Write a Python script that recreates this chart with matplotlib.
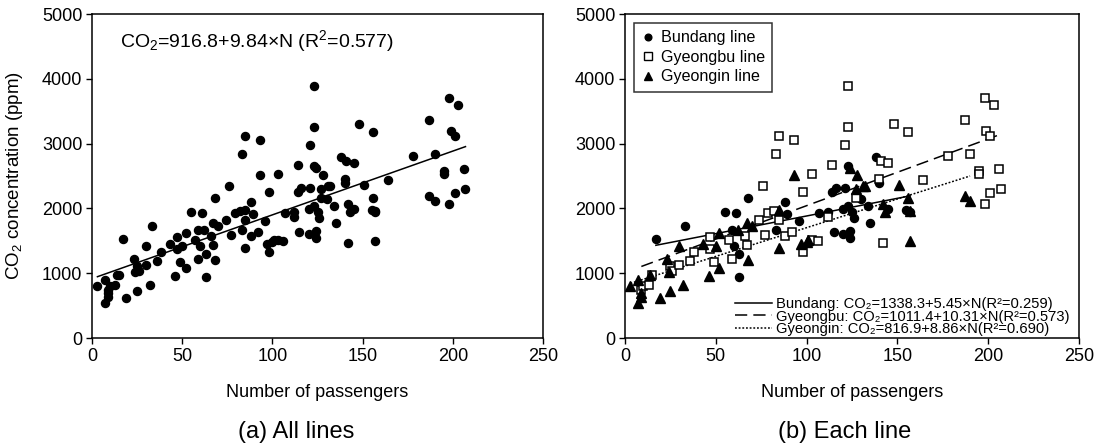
import numpy as np
import matplotlib
matplotlib.use('Agg')
import matplotlib.pyplot as plt
from matplotlib.lines import Line2D

plt.rcParams['font.family'] = ['Liberation Sans', 'DejaVu Sans']
plt.rcParams['mathtext.fontset'] = 'custom'
plt.rcParams['mathtext.rm'] = 'Liberation Sans'
plt.rcParams['mathtext.default'] = 'regular'

# passengers / CO2 (ppm)
bundang_n = [17, 33, 55, 59, 60, 61, 63, 63, 68, 83, 88, 89, 96, 107, 112, 114, 115, 116,
             120, 120, 121, 123, 123, 124, 124, 125, 126, 130, 134, 135, 138, 140, 145, 155, 157]
bundang_co2 = [1530, 1730, 1945, 1665, 1415, 1925, 1300, 935, 2155, 1660, 2105, 1915, 1800, 1930,
               1950, 2250, 1640, 2310, 1605, 1995, 2320, 2655, 2030, 1650, 1545, 1940, 1855, 2150,
               2030, 1775, 2800, 2390, 1985, 1975, 1945]

gyeongbu_n = [9, 10, 13, 15, 25, 26, 30, 36, 38, 47, 47, 49, 57, 59, 66, 67, 74, 76, 77, 79, 82,
              83, 85, 85, 88, 92, 93, 98, 98, 103, 103, 106, 112, 114, 121, 123, 123, 127, 140,
              141, 142, 145, 148, 156, 164, 178, 187, 190, 195, 195, 198, 198, 199, 201, 201,
              203, 206, 207]
gyeongbu_co2 = [745, 800, 815, 975, 1105, 1030, 1120, 1185, 1320, 1555, 1375, 1170, 1515, 1220,
                1580, 1430, 1825, 2340, 1595, 1930, 1965, 2845, 3125, 1815, 1570, 1635, 3060, 2255,
                1330, 2535, 1520, 1500, 1875, 2665, 2975, 3885, 3250, 2165, 2455, 2730, 1470, 2695,
                3310, 3185, 2435, 2810, 3370, 2840, 2580, 2530, 3700, 2075, 3200, 3110, 2245, 3600,
                2615, 2295]

gyeongin_n = [3, 7, 7, 9, 9, 14, 19, 23, 24, 25, 30, 32, 43, 46, 50, 52, 52, 62, 67, 68, 70, 85,
              85, 93, 97, 100, 101, 124, 127, 128, 131, 132, 142, 143, 151, 156, 157, 157, 187, 190]
gyeongin_co2 = [810, 890, 540, 695, 630, 975, 615, 1220, 1015, 730, 1425, 820, 1450, 960, 1425,
                1620, 1080, 1660, 1775, 1210, 1725, 1980, 1390, 2520, 1455, 1480, 1515, 2620, 2300,
                2520, 2340, 2340, 2070, 1945, 2365, 2160, 1490, 1965, 2185, 2115]

# regression coefficients (intercept, slope) as printed on the chart
fit_all = (916.8, 9.84)
fit_bundang = (1338.3, 5.45)
fit_gyeongbu = (1011.4, 10.31)
fit_gyeongin = (816.9, 8.86)

all_n = np.array(bundang_n + gyeongbu_n + gyeongin_n)
all_co2 = np.array(bundang_co2 + gyeongbu_co2 + gyeongin_co2)

FS = 13
DASH = (0, (8, 4))
DOT = (0, (1.2, 1.2))

fig = plt.figure(figsize=(11.06, 4.45), dpi=100)
ax1 = fig.add_axes([0.0832, 0.2404, 0.4078, 0.7281])
ax2 = fig.add_axes([0.5651, 0.2404, 0.4105, 0.7281])

for ax in (ax1, ax2):
    ax.set_xlim(0, 250)
    ax.set_ylim(0, 5000)
    ax.set_xticks(np.arange(0, 251, 50))
    ax.set_yticks(np.arange(0, 5001, 1000))
    ax.tick_params(direction='out', length=4, width=1, labelsize=FS, pad=3,
                   top=False, right=False)
    for s in ax.spines.values():
        s.set_linewidth(1.1)
    ax.set_xlabel('Number of passengers', fontsize=FS, labelpad=14)


def fit_line(ax, n, coef, **kw):
    x = np.array([min(n), max(n)])
    ax.plot(x, coef[0] + coef[1] * x, color='black', zorder=2, **kw)


# (a) all lines
ax1.plot(all_n, all_co2, 'o', color='black', ms=5.8, zorder=3)
fit_line(ax1, all_n, fit_all, lw=1.1)
ax1.text(0.062, 0.917, r'CO$_2$=916.8+9.84$\times$N (R$^2$=0.577)', transform=ax1.transAxes,
         fontsize=14, va='center', ha='left')
ax1.set_ylabel(r'CO$_2$ concentration (ppm)', fontsize=13.5, labelpad=12)

# (b) each line
fit_line(ax2, bundang_n, fit_bundang, lw=1.1, ls='-')
fit_line(ax2, gyeongbu_n, fit_gyeongbu, lw=1.1, ls=DASH)
fit_line(ax2, gyeongin_n, fit_gyeongin, lw=1.1, ls=DOT)
ax2.plot(bundang_n, bundang_co2, 'o', color='black', ms=5.8, zorder=3)
ax2.plot(gyeongbu_n, gyeongbu_co2, 's', mfc='white', mec='black', mew=1.1, ms=6.3, zorder=3)
ax2.plot(gyeongin_n, gyeongin_co2, '^', color='black', ms=7, zorder=3)

h1 = Line2D([], [], marker='o', ls='none', color='black', ms=4.8)
h2 = Line2D([], [], marker='s', ls='none', mfc='white', mec='black', mew=1, ms=5.2)
h3 = Line2D([], [], marker='^', ls='none', color='black', ms=6.3)
leg1 = ax2.legend([h1, h2, h3], ['Bundang line', 'Gyeongbu line', 'Gyeongin line'],
                  loc='upper left', bbox_to_anchor=(0.02, 0.972), borderaxespad=0,
                  fontsize=11.6, frameon=True, fancybox=False, edgecolor='black',
                  handlelength=0.8, handletextpad=0.4, labelspacing=0.28, borderpad=0.45)
leg1.get_frame().set_linewidth(1.1)
ax2.add_artist(leg1)

l1 = Line2D([], [], color='black', lw=1.1, ls='-')
l2 = Line2D([], [], color='black', lw=1.1, ls=DASH)
l3 = Line2D([], [], color='black', lw=1.1, ls=DOT)
labels = ['Bundang: CO\u2082=1338.3+5.45\u00d7N(R\u00b2=0.259)',
          'Gyeongbu: CO\u2082=1011.4+10.31\u00d7N(R\u00b2=0.573)',
          'Gyeongin: CO\u2082=816.9+8.86\u00d7N(R\u00b2=0.690)']
ax2.legend([l1, l2, l3], labels, loc='lower right', bbox_to_anchor=(0.985, -0.004),
           borderaxespad=0, fontsize=10.6, frameon=False, handlelength=2.5,
           handletextpad=0.25, labelspacing=-0.08, borderpad=0.2)

fig.text(0.268, 0.029, '(a) All lines', fontsize=17, ha='center', va='center')
fig.text(0.764, 0.029, '(b) Each line', fontsize=17, ha='center', va='center')

fig.savefig('out.png', dpi=100)
